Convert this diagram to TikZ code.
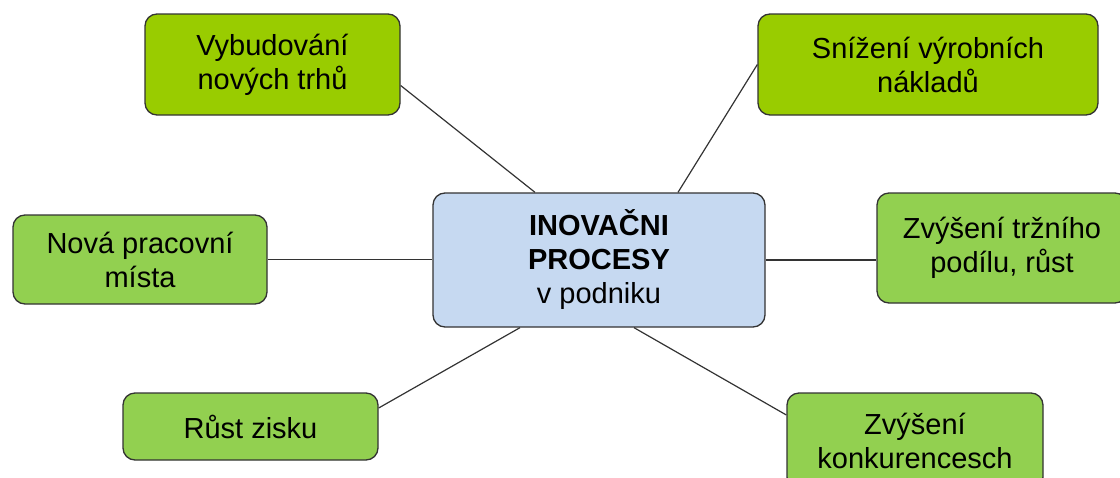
\documentclass[tikz,border=0pt]{standalone}
\usepackage{fontspec}
\setmainfont{Liberation Sans}
\definecolor{limeg}{HTML}{99CC00}
\definecolor{leafg}{HTML}{92D050}
\definecolor{paleblue}{HTML}{C6D9F1}
\definecolor{edgegray}{HTML}{333333}
\begin{document}
\begin{tikzpicture}[x=1pt,y=1pt,
  box/.style={draw=edgegray, line width=1.3pt, rounded corners=12pt, align=center,
    font=\fontsize{29}{34}\selectfont, inner sep=0pt},
  lime/.style={box, fill=limeg},
  leaf/.style={box, fill=leafg},
  hub/.style={box, fill=paleblue},
  link/.style={draw=edgegray, line width=1.2pt}]
\useasboundingbox (0,0) rectangle (1120,-477);
\clip (0,0) rectangle (1120,-477);
\node[hub, minimum width=332pt, minimum height=134pt] (c) at (599,-260)
  {\textbf{INOVAČNI}\\\textbf{PROCESY}\\ v podniku};
\node[lime, minimum width=255pt, minimum height=101pt] (vyb) at (272.5,-64.5) {Vybudování\\nových trhů};
\node[lime, minimum width=340pt, minimum height=101pt] (sniz) at (928,-64.5) {Snížení výrobních\\nákladů};
\node[leaf, minimum width=254pt, minimum height=89pt] (nova) at (140,-259.5) {Nová pracovní\\místa};
\node[leaf, minimum width=250pt, minimum height=110pt] (trz) at (1002,-248) {Zvýšení tržního\\podílu, růst};
\node[leaf, minimum width=255pt, minimum height=67pt] (rust) at (250.5,-426.5) {Růst zisku};
\node[leaf, minimum width=256pt, minimum height=96pt] (konk) at (915,-441) {Zvýšení\\konkurencesch};
\draw[link] ([yshift=-21pt]vyb.east) -- ([xshift=-64pt]c.north);
\draw[link] (sniz.west) -- ([xshift=79pt]c.north);
\draw[link] (nova.east) -- (nova.east -| c.west);
\draw[link] (c.east) -- (c.east -| trz.west);
\draw[link] ([yshift=18.5pt]rust.east) -- ([xshift=-79pt]c.south);
\draw[link] ([yshift=26pt]konk.west) -- ([xshift=35pt]c.south);
\end{tikzpicture}
\end{document}
